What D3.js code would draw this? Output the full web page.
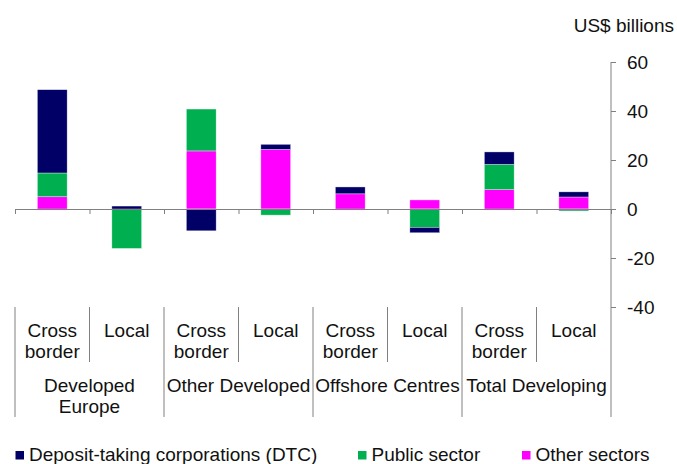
<!DOCTYPE html>
<html>
<head>
<meta charset="utf-8">
<script src="https://cdnjs.cloudflare.com/ajax/libs/d3/7.8.5/d3.min.js"></script>
<style>
  html, body { margin: 0; padding: 0; background: #fff; }
  svg { display: block; font-family: "Liberation Sans", Arial, sans-serif; }
</style>
</head>
<body>
<div id="chart"></div>
<script>
// Chart data (US$ billions)
const groups = ["Developed Europe", "Other Developed", "Offshore Centres", "Total Developing"];
const groupLines = [["Developed", "Europe"], ["Other Developed"], ["Offshore Centres"], ["Total Developing"]];
const subCategories = [["Cross", "border"], ["Local"]];
const dtc = [34, 1.2, -8.9, 2.1, 2.8, -2.2, 5.1, 2.1];
const publicSector = [9.7, -16.1, 17.1, -2.5, 0, -7.5, 10.3, -0.8];
const otherSectors = [5.0, 0, 23.7, 24.3, 6.2, 3.7, 7.9, 4.9];
const yTicks = [-40, -20, 0, 20, 40, 60];
const seriesNames = ["Deposit-taking corporations (DTC)", "Public sector", "Other sectors"];

const colors = { dtc: "#000066", pub: "#00B050", other: "#FF00FF" };

const width = 677, height = 464;
const plotLeft = 15, plotRight = 611, plotTop = 62, plotBottom = 307;
const labelBottom = 417;
const fontSize = 19;

const svg = d3.select("#chart").append("svg")
    .attr("width", width)
    .attr("height", height);

// build one row per bar
const rows = [];
groups.forEach((g, gi) => {
    subCategories.forEach((s, si) => {
        const i = gi * 2 + si;
        rows.push({ id: i, group: g, sub: s, other: otherSectors[i], pub: publicSector[i], dtc: dtc[i] });
    });
});

const x = d3.scaleBand().domain(rows.map(d => d.id)).range([plotLeft, plotRight]).padding(0);
const xEdge = d3.scaleLinear().domain([0, rows.length]).range([plotLeft, plotRight]);
const y = d3.scaleLinear().domain([-40, 60]).range([plotBottom, plotTop]);

const bw = x.bandwidth();
const barW = bw * 0.4;

// stacked bars: other at the bottom, then public, then DTC
const stack = d3.stack().keys(["other", "pub", "dtc"]).offset(d3.stackOffsetDiverging);
const series = stack(rows);

svg.append("g").selectAll("g")
    .data(series)
    .join("g")
    .attr("fill", s => colors[s.key])
    .selectAll("rect")
    .data(s => s)
    .join("rect")
    .attr("x", d => x(d.data.id) + (bw - barW) / 2)
    .attr("width", barW)
    .attr("y", d => y(Math.max(d[0], d[1])))
    .attr("height", d => Math.abs(y(d[0]) - y(d[1])))
    .attr("stroke", "#fff")
    .attr("stroke-opacity", 0.6)
    .attr("stroke-width", 0.6);

// zero line with category ticks
const xAxis = svg.append("g")
    .attr("transform", `translate(0,${y(0)})`)
    .call(d3.axisBottom(xEdge).tickValues(d3.range(rows.length + 1)).tickSize(5).tickSizeOuter(0).tickFormat(""));
xAxis.select(".domain").attr("stroke", "#808080");
xAxis.selectAll(".tick line").attr("stroke", "#808080");

// y axis on the right (plain hyphen for negatives)
const yAxis = svg.append("g")
    .attr("transform", `translate(${plotRight},0)`)
    .call(d3.axisRight(y).tickValues(yTicks).tickSize(5).tickPadding(11).tickFormat(d => String(d)));
yAxis.select(".domain").remove();
yAxis.selectAll(".tick line").attr("stroke", "#808080");
yAxis.selectAll(".tick text")
    .attr("font-size", fontSize)
    .attr("font-family", "Liberation Sans, Arial, sans-serif")
    .attr("fill", "#111")
    .attr("dy", "0.35em");

svg.append("line")
    .attr("x1", plotRight).attr("x2", plotRight)
    .attr("y1", plotTop).attr("y2", labelBottom)
    .attr("stroke", "#808080");

svg.append("text")
    .attr("x", 674).attr("y", 32)
    .attr("text-anchor", "end")
    .attr("font-size", fontSize)
    .attr("fill", "#111")
    .text("US$ billions");

// category separators below the plot
d3.range(rows.length).forEach(i => {
    const full = i % 2 === 0;
    svg.append("line")
        .attr("x1", xEdge(i)).attr("x2", xEdge(i))
        .attr("y1", plotBottom)
        .attr("y2", full ? labelBottom : 362)
        .attr("stroke", "#808080");
});

// sub category labels
const lineH = 21.7;
rows.forEach(d => {
    const t = svg.append("text")
        .attr("text-anchor", "middle")
        .attr("font-size", fontSize)
        .attr("fill", "#111");
    d.sub.forEach((ln, k) => {
        t.append("tspan")
            .attr("x", x(d.id) + bw / 2)
            .attr("y", 336.5 + k * lineH)
            .text(ln);
    });
});

// group labels
groupLines.forEach((lines, gi) => {
    const cx = xEdge(gi * 2 + 1);
    const t = svg.append("text")
        .attr("text-anchor", "middle")
        .attr("font-size", fontSize)
        .attr("fill", "#111");
    lines.forEach((ln, k) => {
        t.append("tspan")
            .attr("x", cx)
            .attr("y", 391.5 + k * lineH)
            .text(ln);
    });
});

// legend
const legendX = [15.5, 358, 522];
const legendColors = [colors.dtc, colors.pub, colors.other];
const legend = svg.append("g").selectAll("g")
    .data(seriesNames)
    .join("g")
    .attr("transform", (d, i) => `translate(${legendX[i]},0)`);
legend.append("rect")
    .attr("x", 0).attr("y", 451)
    .attr("width", 8.5).attr("height", 8.5)
    .attr("fill", (d, i) => legendColors[i]);
legend.append("text")
    .attr("x", 13.5).attr("y", 461)
    .attr("font-size", fontSize)
    .attr("fill", "#111")
    .text(d => d);
</script>
</body>
</html>
